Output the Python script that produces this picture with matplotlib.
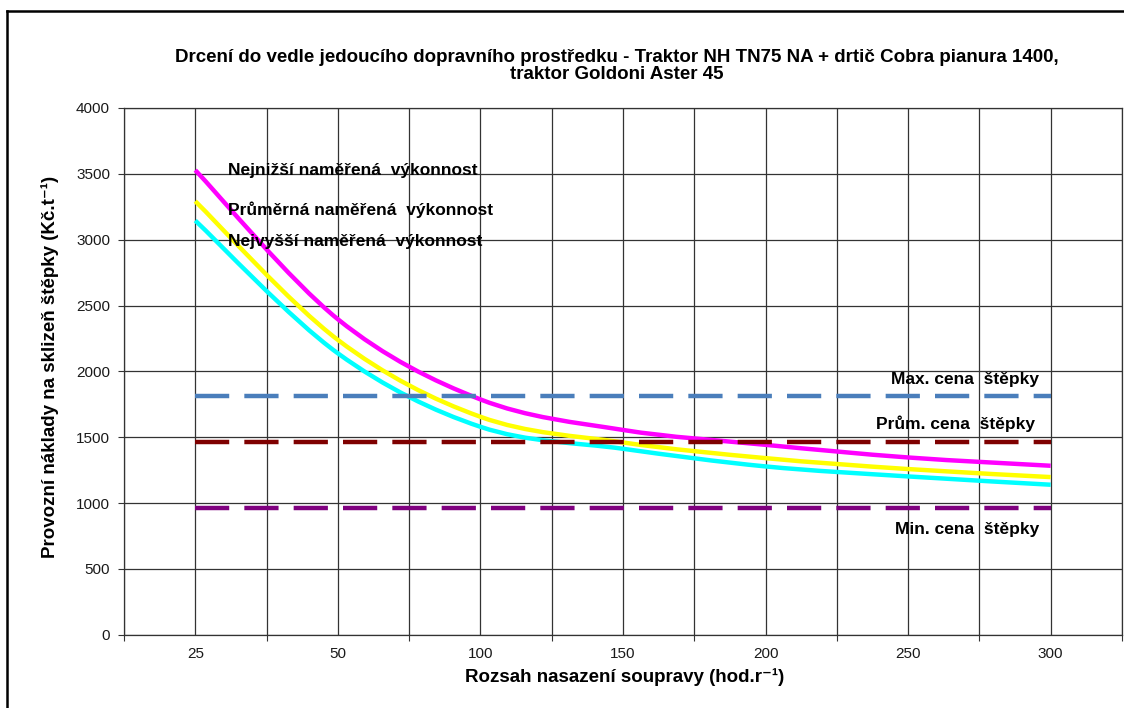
#!/usr/bin/env python3
"""Operating costs of wood chip harvesting vs. yearly use of the machine set."""

import matplotlib

matplotlib.use("Agg")

import matplotlib.pyplot as plt
import numpy as np
from matplotlib.lines import Line2D
from matplotlib.patches import PathPatch
from matplotlib.path import Path

plt.rcParams["font.family"] = ["Liberation Sans", "DejaVu Sans"]

# category axis (Excel-style line chart)
hours = ["25", "50", "100", "150", "200", "250", "300"]

# costs (Kč/t) for lowest / average / highest measured performance
cost_lowest = [3528, 2396, 1787, 1555, 1442, 1346, 1283]
cost_average = [3292, 2239, 1655, 1460, 1341, 1258, 1197]
cost_highest = [3145, 2137, 1579, 1412, 1278, 1202, 1139]

# wood chip prices (Kč/t)
price_max = 1810
price_avg = 1460
price_min = 965

CURVES = [
    (cost_lowest, "#ff00ff", "Nejnižší naměřená  výkonnost", 3528),
    (cost_average, "#ffff00", "Průměrná naměřená  výkonnost", 3228),
    (cost_highest, "#00ffff", "Nejvyšší naměřená  výkonnost", 2987),
]

PRICES = [
    (price_max, "#4a7ebb", "Max. cena  štěpky", 1935, 5.92),
    (price_avg, "#7f0000", "Prům. cena  štěpky", 1601, 5.89),
    (price_min, "#7f007f", "Min. cena  štěpky", 796, 5.92),
]


def smooth_path(xs, ys):
    """Bezier path through the points, like Excel's 'smoothed line'."""
    pts = np.column_stack([xs, ys]).astype(float)
    n = len(pts)
    verts = [pts[0]]
    codes = [Path.MOVETO]
    for i in range(n - 1):
        p0 = pts[max(i - 1, 0)]
        p1 = pts[i]
        p2 = pts[i + 1]
        p3 = pts[min(i + 2, n - 1)]
        verts += [p1 + (p2 - p0) / 6, p2 - (p3 - p1) / 6, p2]
        codes += [Path.CURVE4] * 3
    return Path(verts, codes)


def main() -> None:
    fig = plt.figure(figsize=(11.24, 7.08), dpi=100)
    ax = fig.add_axes([0.1103, 0.1035, 0.8879, 0.744])

    xs = np.arange(len(hours))
    ax.set_xlim(-0.5, len(hours) - 0.5)
    ax.set_ylim(0, 4000)

    grid_color = "#333333"
    ax.set_xticks(np.arange(len(hours) + 1) - 0.5)
    ax.set_xticklabels([])
    ax.set_xticks(xs, minor=True)
    ax.set_xticklabels(hours, minor=True)
    ax.set_yticks(np.arange(0, 4001, 500))
    ax.tick_params(axis="x", which="major", direction="out", length=4, color=grid_color)
    ax.tick_params(axis="x", which="minor", length=0, pad=9, labelsize=11, labelcolor="#1a1a1a")
    ax.tick_params(axis="y", direction="out", length=4, pad=6, labelsize=11,
                   color=grid_color, labelcolor="#1a1a1a")
    ax.grid(True, which="both", axis="x", color=grid_color, linewidth=0.9)
    ax.grid(True, which="major", axis="y", color=grid_color, linewidth=0.9)
    ax.set_axisbelow(True)
    for spine in ax.spines.values():
        spine.set_color(grid_color)
        spine.set_linewidth(0.9)

    for values, color, label, ylab in CURVES:
        patch = PathPatch(smooth_path(xs, values), fill=False, edgecolor=color,
                          linewidth=3.2, capstyle="butt", zorder=3)
        ax.add_patch(patch)
        ax.text(0.23, ylab, label, ha="left", va="center", fontsize=12.5,
                fontweight="bold", color="black", zorder=5)

    for value, color, label, ylab, xlab in PRICES:
        ax.plot(xs, [value] * len(xs), color=color, linewidth=3.2,
                linestyle=(0, (7.7, 3.4)), zorder=4)
        ax.text(xlab, ylab, label, ha="right", va="center", fontsize=12.5,
                fontweight="bold", color="black", zorder=5)

    fig.text(0.549, 0.9068,
             "Drcení do vedle jedoucího dopravního prostředku - Traktor NH TN75 NA + drtič Cobra pianura 1400,\n"
             "traktor Goldoni Aster 45",
             ha="center", va="center", fontsize=13.5, fontweight="bold", linespacing=1.0)
    fig.text(0.556, 0.044, "Rozsah nasazení soupravy (hod.r⁻¹)",
             ha="center", va="center", fontsize=13.5, fontweight="bold")
    fig.text(0.0445, 0.482, "Provozní náklady na sklizeň štěpky (Kč.t⁻¹)",
             ha="center", va="center", rotation=90, fontsize=13.5, fontweight="bold")

    # chart-area frame, cut off on the right and bottom
    left = 7 / 1124
    top = 1 - 11 / 708
    fig.add_artist(Line2D([left, left], [-0.01, top], transform=fig.transFigure,
                          color="black", linewidth=1.8))
    fig.add_artist(Line2D([left, 1.01], [top, top], transform=fig.transFigure,
                          color="black", linewidth=1.8))

    fig.savefig("out.png", dpi=100)


if __name__ == "__main__":
    main()
